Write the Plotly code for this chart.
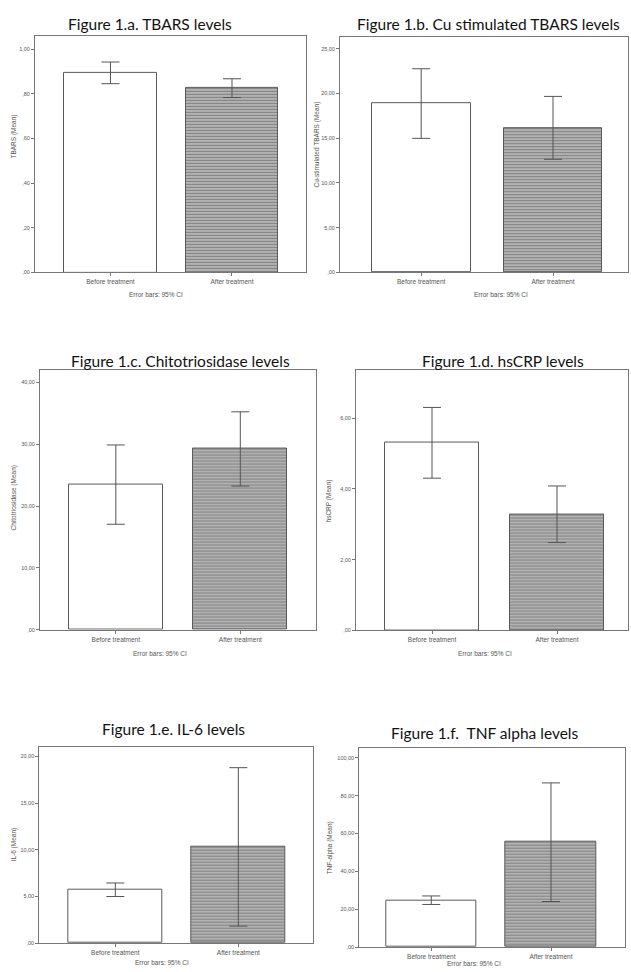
import plotly.graph_objects as go

# ---------------- data ----------------
categories = ["Before treatment", "After treatment"]
footnote = "Error bars: 95% CI"

panel_titles = [
    "Figure 1.a. TBARS levels",
    "Figure 1.b. Cu stimulated TBARS levels",
    "Figure 1.c. Chitotriosidase levels",
    "Figure 1.d. hsCRP levels",
    "Figure 1.e. IL-6 levels",
    "Figure 1.f.  TNF alpha levels",
]
y_titles = [
    "TBARS (Mean)",
    "Cu-stimulated TBARS (Mean)",
    "Chitotriosidase (Mean)",
    "hsCRP (Mean)",
    "IL-6 (Mean)",
    "TNF-alpha (Mean)",
]

tbars_mean = [0.893, 0.826]
tbars_lo = [0.845, 0.783]
tbars_hi = [0.942, 0.867]

cu_tbars_mean = [18.90, 16.18]
cu_tbars_lo = [14.99, 12.65]
cu_tbars_hi = [22.77, 19.68]

chito_mean = [23.46, 29.37]
chito_lo = [17.07, 23.25]
chito_hi = [29.90, 35.26]

hscrp_mean = [5.30, 3.28]
hscrp_lo = [4.30, 2.48]
hscrp_hi = [6.30, 4.08]

il6_mean = [5.74, 10.33]
il6_lo = [4.99, 1.82]
il6_hi = [6.44, 18.80]

tnf_mean = [24.6, 55.4]
tnf_lo = [22.5, 24.05]
tnf_hi = [27.0, 86.7]

tbars_ticks = [0, 0.2, 0.4, 0.6, 0.8, 1.0]
tbars_ticklabels = [",00", ",20", ",40", ",60", ",80", "1,00"]
cu_ticks = [0, 5, 10, 15, 20, 25]
cu_ticklabels = [",00", "5,00", "10,00", "15,00", "20,00", "25,00"]
chito_ticks = [0, 10, 20, 30, 40]
chito_ticklabels = [",00", "10,00", "20,00", "30,00", "40,00"]
hscrp_ticks = [0, 2, 4, 6]
hscrp_ticklabels = [",00", "2,00", "4,00", "6,00"]
il6_ticks = [0, 5, 10, 15, 20]
il6_ticklabels = [",00", "5,00", "10,00", "15,00", "20,00"]
tnf_ticks = [0, 20, 40, 60, 80, 100]
tnf_ticklabels = [",00", "20,00", "40,00", "60,00", "80,00", "100,00"]

series = [
    (tbars_mean, tbars_lo, tbars_hi, tbars_ticks, tbars_ticklabels),
    (cu_tbars_mean, cu_tbars_lo, cu_tbars_hi, cu_ticks, cu_ticklabels),
    (chito_mean, chito_lo, chito_hi, chito_ticks, chito_ticklabels),
    (hscrp_mean, hscrp_lo, hscrp_hi, hscrp_ticks, hscrp_ticklabels),
    (il6_mean, il6_lo, il6_hi, il6_ticks, il6_ticklabels),
    (tnf_mean, tnf_lo, tnf_hi, tnf_ticks, tnf_ticklabels),
]

# ---------------- layout (pixel geometry) ----------------
W, H = 631, 972
# plot box: left, right, top, bottom (px)
boxes = [
    (35, 306, 36, 273.3),
    (340, 628, 37.3, 273.3),
    (40, 316, 370.7, 631.7),
    (356, 628, 370.7, 632.3),
    (39.3, 313, 749, 946),
    (359.3, 625, 750, 950),
]
y_max = [1.059, 26.3, 42.1, 7.37, 21.05, 105.3]
x_ranges = [(-0.621, 1.609), (-0.616, 1.569), (-0.609, 1.608),
            (-0.608, 1.568), (-0.618, 1.607), (-0.601, 1.618)]
bar_widths = [0.76, 0.75, 0.755, 0.752, 0.764, 0.758]
title_pos = [(150, 24), (488, 24), (180, 362), (503, 362), (173, 731), (485, 735)]
ytitle_pos = [(14, 137), (317, 145), (14, 500), (329, 502), (14, 847), (330, 851)]
foot_pos = [(156, 295), (501, 295), (160, 656), (485, 656), (162, 965), (474, 966)]

AX = "#777777"
TXT = "#555555"
TITLE_FONT = dict(family="Lato, Open Sans, sans-serif", size=15.5, color="#111111")
SMALL = dict(family="Liberation Sans, Arial, sans-serif", size=6.5, color=TXT)

fig = go.Figure()
annotations = []

for i, (mean, lo, hi, tv, tt) in enumerate(series):
    n = i + 1
    xa = "x" if n == 1 else f"x{n}"
    ya = "y" if n == 1 else f"y{n}"
    err_plus = [h - m for h, m in zip(hi, mean)]
    err_minus = [m - l for m, l in zip(mean, lo)]
    fig.add_trace(go.Bar(
        x=[0, 1], y=mean, width=bar_widths[i],
        xaxis=xa, yaxis=ya, showlegend=False, hoverinfo="skip",
        marker=dict(
            color=["#ffffff", "#b2b2b2"],
            line=dict(color="#5a5a5a", width=1),
            pattern=dict(shape=["", "-"], fgcolor="#dcdcdc",
                         bgcolor=["#ffffff", "#b2b2b2"],
                         size=3, solidity=0.3, fillmode="overlay"),
        ),
        error_y=dict(type="data", symmetric=False, array=err_plus,
                     arrayminus=err_minus, color="#555555",
                     thickness=1, width=9),
    ))
    l, r, t, b = boxes[i]
    axkey_x = "xaxis" if n == 1 else f"xaxis{n}"
    axkey_y = "yaxis" if n == 1 else f"yaxis{n}"
    fig.update_layout(**{
        axkey_x: dict(domain=[l / W, r / W], range=list(x_ranges[i]),
                      anchor=ya, tickvals=[0, 1], ticktext=categories,
                      ticks="outside", ticklen=3, tickcolor=AX,
                      showline=True, linecolor=AX, linewidth=1, mirror=True,
                      showgrid=False, zeroline=False, tickfont=SMALL,
                      fixedrange=True),
        axkey_y: dict(domain=[1 - b / H, 1 - t / H], range=[0, y_max[i]],
                      anchor=xa, tickvals=tv, ticktext=tt,
                      ticks="outside", ticklen=3, tickcolor=AX,
                      showline=True, linecolor=AX, linewidth=1, mirror=True,
                      showgrid=False, zeroline=False,
                      tickfont=dict(family=SMALL["family"], size=5.5, color=TXT),
                      fixedrange=True),
    })
    tx, ty = title_pos[i]
    annotations.append(dict(text=panel_titles[i], x=tx / W, y=1 - ty / H,
                            xref="paper", yref="paper", showarrow=False,
                            xanchor="center", yanchor="middle", font=TITLE_FONT))
    yx, yy = ytitle_pos[i]
    annotations.append(dict(text=y_titles[i], x=yx / W, y=1 - yy / H,
                            xref="paper", yref="paper", showarrow=False,
                            textangle=-90, xanchor="center", yanchor="middle",
                            font=SMALL))
    fx, fy = foot_pos[i]
    annotations.append(dict(text=footnote, x=fx / W, y=1 - fy / H,
                            xref="paper", yref="paper", showarrow=False,
                            xanchor="center", yanchor="middle", font=SMALL))

fig.update_layout(
    width=W, height=H,
    margin=dict(l=0, r=0, t=0, b=0),
    paper_bgcolor="white", plot_bgcolor="white",
    bargap=0, annotations=annotations,
)

fig.write_html("out.html", config={"displayModeBar": False},
               post_script="document.body.style.margin='0px';"
                           "document.body.style.padding='0px';")
